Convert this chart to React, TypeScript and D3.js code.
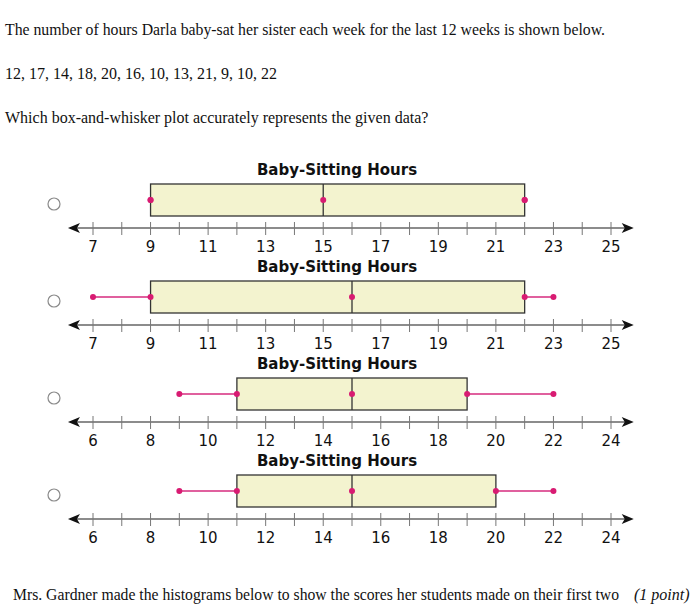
import React from 'react';
import * as d3 from 'd3';

// question text
const questionLines = [
  'The number of hours Darla baby-sat her sister each week for the last 12 weeks is shown below.',
  '12, 17, 14, 18, 20, 16, 10, 13, 21, 9, 10, 22',
  'Which box-and-whisker plot accurately represents the given data?',
];
const nextQuestion = 'Mrs. Gardner made the histograms below to show the scores her students made on their first two';
const pointLabel = '(1 point)';

const chartTitle = 'Baby-Sitting Hours';

// one entry per answer option
const axisMin = [7, 7, 6, 6];
const axisMax = [25, 25, 24, 24];
const whiskerLow = [9, 7, 9, 9];
const q1 = [9, 9, 11, 11];
const median = [15, 16, 15, 15];
const q3 = [22, 22, 19, 20];
const whiskerHigh = [22, 23, 22, 22];

const W = 693;
const H = 604;
const panelGap = 97;
const titleY = 175;
const boxTop = 184;
const boxBottom = 216;
const axisY = 228;
const labelY = 252;

const pink = '#d81b72';
const whiskerColor = '#e0609e';

const Panel: React.FC<{ i: number }> = ({ i }) => {
  const x = d3.scaleLinear().domain([axisMin[i], axisMax[i]]).range([93, 611]);
  const ticks = d3.range(axisMin[i], axisMax[i] + 1);
  const labels = ticks.filter((t) => (t - axisMin[i]) % 2 === 0);
  const midY = (boxTop + boxBottom) / 2;
  const left = x(axisMin[i] - 0.87);
  const right = x(axisMax[i] + 0.79);
  const dots = [whiskerLow[i], q1[i], median[i], q3[i], whiskerHigh[i]];
  return (
    <g transform={`translate(0,${i * panelGap})`}>
      <circle cx={54} cy={204} r={6} fill="#fff" stroke="#8a8a8a" strokeWidth={1.2} />
      <text x={337} y={titleY} textAnchor="middle" fontFamily="'DejaVu Sans', Verdana, sans-serif"
        fontWeight="bold" fontSize={15} fill="#111">{chartTitle}</text>

      {/* axis */}
      <line x1={left + 8} x2={right - 8} y1={axisY} y2={axisY} stroke="#666" strokeWidth={1.6} />
      <path d={`M${left},${axisY} l12,-5 l-3,5 l3,5 z`} fill="#111" />
      <path d={`M${right},${axisY} l-12,-5 l3,5 l-3,5 z`} fill="#111" />
      {ticks.map((t) => (
        <line key={t} x1={x(t)} x2={x(t)} y1={axisY - 6} y2={axisY + 7} stroke="#777" strokeWidth={1} />
      ))}
      {labels.map((t) => (
        <text key={t} x={x(t)} y={labelY} textAnchor="middle" fontFamily="'DejaVu Sans', Verdana, sans-serif"
          fontSize={15} fill="#111">{t}</text>
      ))}

      {/* whiskers */}
      {whiskerLow[i] < q1[i] && (
        <line x1={x(whiskerLow[i])} x2={x(q1[i])} y1={midY} y2={midY} stroke={whiskerColor} strokeWidth={2} />
      )}
      {whiskerHigh[i] > q3[i] && (
        <line x1={x(q3[i])} x2={x(whiskerHigh[i])} y1={midY} y2={midY} stroke={whiskerColor} strokeWidth={2} />
      )}

      {/* box */}
      <rect x={x(q1[i])} y={boxTop} width={x(q3[i]) - x(q1[i])} height={boxBottom - boxTop}
        fill="#f3f3cf" stroke="#333" strokeWidth={1.3} />
      <line x1={x(median[i])} x2={x(median[i])} y1={boxTop} y2={boxBottom} stroke="#333" strokeWidth={1.3} />

      {dots.map((d, k) => (
        <circle key={k} cx={x(d)} cy={midY} r={3} fill={pink} />
      ))}
    </g>
  );
};

export default function App() {
  return (
    <svg width={W} height={H} style={{ position: 'absolute', left: 0, top: 0, background: '#fff' }}>
      {questionLines.map((s, k) => (
        <text key={k} x={5} y={35 + k * 44} fontFamily="'Liberation Serif', 'Times New Roman', serif"
          fontSize={16} fill="#111" textLength={k === 0 ? 600 : undefined} lengthAdjust="spacingAndGlyphs">{s}</text>
      ))}
      {axisMin.map((_, i) => (
        <Panel key={i} i={i} />
      ))}
      <text x={13} y={600} fontFamily="'Liberation Serif', 'Times New Roman', serif" fontSize={16} fill="#111"
        textLength={606} lengthAdjust="spacingAndGlyphs">
        {nextQuestion}
      </text>
      <text x={634} y={600} fontFamily="'Liberation Serif', 'Times New Roman', serif" fontSize={16}
        fontStyle="italic" fill="#111">{pointLabel}</text>
    </svg>
  );
}
